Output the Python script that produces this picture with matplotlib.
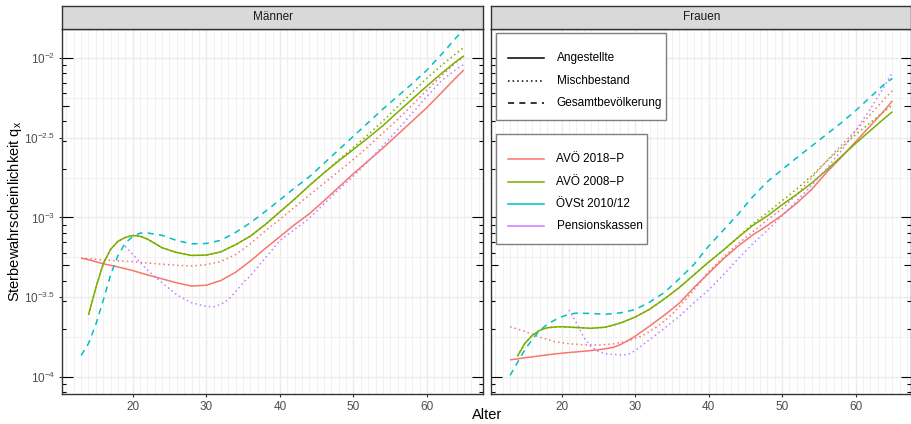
import numpy as np
import matplotlib
matplotlib.use("Agg")
import matplotlib.pyplot as plt
import matplotlib.ticker as mticker
from matplotlib.patches import Rectangle
from matplotlib.lines import Line2D
from matplotlib.collections import LineCollection

plt.rcParams["font.family"] = ["Liberation Sans", "DejaVu Sans"]
plt.rcParams["mathtext.fontset"] = "custom"
plt.rcParams["mathtext.rm"] = "Liberation Sans"
plt.rcParams["mathtext.it"] = "Liberation Sans:italic"
plt.rcParams["mathtext.bf"] = "Liberation Sans:bold"

# ---------------------------------------------------------------------------
# Sterbewahrscheinlichkeiten q_x, angegeben als log10(q_x)
# ---------------------------------------------------------------------------
# Männer
m_avoe2018_ang_age = [13, 14, 16, 18, 20, 22, 24, 26, 28, 30, 32, 34, 36, 38, 40, 42, 44, 46,
                      48, 50, 52, 54, 56, 58, 60, 62, 64, 65]
m_avoe2018_ang = [-3.255, -3.265, -3.29, -3.31, -3.333, -3.36, -3.385, -3.41, -3.43, -3.425,
                  -3.395, -3.343, -3.273, -3.195, -3.12, -3.045, -2.977, -2.895, -2.81, -2.725,
                  -2.645, -2.565, -2.48, -2.395, -2.31, -2.215, -2.12, -2.075]
m_avoe2018_misch_age = m_avoe2018_ang_age
m_avoe2018_misch = [-3.255, -3.258, -3.266, -3.272, -3.277, -3.285, -3.293, -3.30, -3.304, -3.296,
                    -3.275, -3.232, -3.165, -3.085, -3.012, -2.935, -2.86, -2.785, -2.71, -2.635,
                    -2.555, -2.47, -2.385, -2.295, -2.20, -2.11, -2.025, -1.995]
m_avoe2008_ang_age = [14, 15, 16, 17, 18, 19, 20, 21, 22, 24, 26, 28, 30, 32, 34, 36, 38, 40, 42,
                      44, 46, 48, 50, 52, 54, 56, 58, 60, 62, 64, 65]
m_avoe2008_ang = [-3.611, -3.44, -3.29, -3.20, -3.15, -3.125, -3.113, -3.118, -3.135, -3.19,
                  -3.22, -3.238, -3.236, -3.215, -3.17, -3.117, -3.045, -2.965, -2.885, -2.80,
                  -2.72, -2.645, -2.573, -2.50, -2.424, -2.34, -2.257, -2.175, -2.095, -2.02, -1.986]
m_avoe2008_misch_age = m_avoe2008_ang_age
m_avoe2008_misch = [-3.611, -3.44, -3.29, -3.20, -3.15, -3.125, -3.113, -3.118, -3.135, -3.19,
                    -3.22, -3.238, -3.236, -3.215, -3.17, -3.117, -3.045, -2.965, -2.885, -2.80,
                    -2.72, -2.638, -2.56, -2.48, -2.395, -2.305, -2.215, -2.125, -2.045, -1.97, -1.933]
m_oevst_age = [13, 14, 15, 16, 17, 18, 19, 20, 21, 22, 24, 26, 28, 30, 32, 34, 36, 38, 40, 42, 44,
               46, 48, 50, 52, 54, 56, 58, 60, 62, 64, 65]
m_oevst = [-3.865, -3.79, -3.67, -3.52, -3.36, -3.24, -3.16, -3.12, -3.098, -3.097, -3.112, -3.145,
           -3.165, -3.163, -3.143, -3.093, -3.033, -2.963, -2.89, -2.815, -2.745, -2.66, -2.575,
           -2.49, -2.405, -2.32, -2.24, -2.16, -2.075, -1.975, -1.87, -1.82]
m_pk_age = [19, 20, 21, 22, 23, 24, 26, 28, 30, 31, 32, 33, 34, 35, 36, 38, 40, 42, 44, 46, 48, 50,
            52, 54, 56, 58, 60, 62, 64, 65]
m_pk = [-3.18, -3.23, -3.28, -3.33, -3.37, -3.41, -3.485, -3.535, -3.557, -3.56, -3.545, -3.515,
        -3.465, -3.41, -3.365, -3.255, -3.145, -3.075, -3.005, -2.915, -2.825, -2.74, -2.648,
        -2.55, -2.45, -2.345, -2.24, -2.14, -2.07, -2.04]

# Frauen
f_avoe2018_ang_age = [13, 15, 17, 19, 21, 23, 25, 27, 28, 29, 30, 32, 34, 36, 38, 40, 42, 44, 46,
                      48, 50, 52, 54, 56, 58, 60, 62, 64, 65]
f_avoe2018_ang = [-3.893, -3.88, -3.868, -3.856, -3.847, -3.839, -3.83, -3.815, -3.797, -3.773,
                  -3.745, -3.68, -3.612, -3.538, -3.44, -3.35, -3.26, -3.18, -3.11, -3.05, -2.985,
                  -2.91, -2.825, -2.72, -2.625, -2.525, -2.425, -2.325, -2.268]
f_avoe2018_misch_age = [13, 15, 17, 19, 21, 23, 25, 27, 29, 31, 33, 35, 36, 38, 40, 42, 44, 46, 48,
                        50, 52, 54, 56, 58, 60, 62, 64, 65]
f_avoe2018_misch = [-3.685, -3.715, -3.75, -3.778, -3.792, -3.798, -3.8, -3.793, -3.775, -3.742,
                    -3.685, -3.61, -3.56, -3.455, -3.34, -3.25, -3.165, -3.09, -3.015, -2.945,
                    -2.855, -2.752, -2.648, -2.55, -2.455, -2.355, -2.252, -2.205]
f_avoe2008_ang_age = [14, 15, 16, 17, 18, 19, 20, 22, 24, 26, 28, 30, 32, 34, 36, 38, 40, 42, 44,
                      46, 48, 50, 52, 54, 56, 58, 60, 62, 64, 65]
f_avoe2008_ang = [-3.87, -3.79, -3.74, -3.708, -3.692, -3.687, -3.685, -3.69, -3.695, -3.688,
                  -3.662, -3.625, -3.575, -3.51, -3.44, -3.36, -3.28, -3.205, -3.125, -3.05, -2.99,
                  -2.92, -2.855, -2.785, -2.705, -2.62, -2.535, -2.455, -2.375, -2.337]
f_avoe2008_misch_age = f_avoe2008_ang_age
f_avoe2008_misch = [-3.87, -3.79, -3.74, -3.708, -3.692, -3.687, -3.685, -3.69, -3.695, -3.688,
                    -3.662, -3.625, -3.575, -3.51, -3.44, -3.36, -3.28, -3.205, -3.125, -3.04,
                    -2.97, -2.895, -2.82, -2.74, -2.65, -2.565, -2.48, -2.405, -2.33, -2.295]
f_oevst_age = [13, 14, 15, 16, 17, 18, 19, 20, 21, 22, 24, 26, 28, 30, 32, 34, 36, 38, 40, 42, 44,
               46, 48, 50, 52, 54, 56, 58, 60, 62, 64, 65]
f_oevst = [-3.99, -3.91, -3.83, -3.765, -3.71, -3.672, -3.645, -3.623, -3.607, -3.60, -3.602,
           -3.607, -3.598, -3.578, -3.53, -3.47, -3.385, -3.295, -3.18, -3.08, -2.98, -2.87,
           -2.775, -2.70, -2.625, -2.553, -2.48, -2.408, -2.33, -2.245, -2.16, -2.128]
f_pk_age = [21, 22, 23, 24, 25, 26, 28, 29, 30, 31, 32, 34, 36, 38, 40, 42, 44, 46, 48, 50, 52, 54,
            56, 58, 60, 62, 64, 65]
f_pk = [-3.58, -3.66, -3.75, -3.81, -3.84, -3.855, -3.862, -3.86, -3.835, -3.80, -3.765, -3.695,
        -3.62, -3.535, -3.455, -3.36, -3.26, -3.165, -3.08, -2.99, -2.895, -2.80, -2.695, -2.585,
        -2.455, -2.32, -2.17, -2.09]

panels = ["Männer", "Frauen"]
tafeln = ["AVÖ 2018\u2212P", "AVÖ 2008\u2212P", "ÖVSt 2010/12", "Pensionskassen"]
bestaende = ["Angestellte", "Mischbestand", "Gesamtbevölkerung"]

x_breaks = [20, 30, 40, 50, 60]
y_breaks_log = [-4, -3.5, -3, -2.5, -2]
y_labels = [r"$10^{-4}$", r"$10^{-3.5}$", r"$10^{-3}$", r"$10^{-2.5}$", r"$10^{-2}$"]
y_minor_log = [-3.75, -3.25, -2.75, -2.25]

# (Panel, Tafel, Bestand, Alter, Werte)
series = [
    ("Männer", 0, 0, m_avoe2018_ang_age, m_avoe2018_ang),
    ("Männer", 0, 1, m_avoe2018_misch_age, m_avoe2018_misch),
    ("Männer", 1, 0, m_avoe2008_ang_age, m_avoe2008_ang),
    ("Männer", 1, 1, m_avoe2008_misch_age, m_avoe2008_misch),
    ("Männer", 2, 2, m_oevst_age, m_oevst),
    ("Männer", 3, 1, m_pk_age, m_pk),
    ("Frauen", 0, 0, f_avoe2018_ang_age, f_avoe2018_ang),
    ("Frauen", 0, 1, f_avoe2018_misch_age, f_avoe2018_misch),
    ("Frauen", 1, 0, f_avoe2008_ang_age, f_avoe2008_ang),
    ("Frauen", 1, 1, f_avoe2008_misch_age, f_avoe2008_misch),
    ("Frauen", 2, 2, f_oevst_age, f_oevst),
    ("Frauen", 3, 1, f_pk_age, f_pk),
]

# ---------------------------------------------------------------------------
# Darstellung
# ---------------------------------------------------------------------------
colors = ["#F8766D", "#7CAE00", "#00BFC4", "#C77CFF"]
LW = 1.1
linestyles = ["-", (0, (1.0, 2.0)), (0, (4.0, 3.4))]

W, H = 912, 424
DPI = 100
fig = plt.figure(figsize=(W / DPI, H / DPI), dpi=DPI)


def fx(px):
    return px / W


def fy(py):
    return 1 - py / H


panel_x = [(62, 483), (491, 911.5)]
panel_top, panel_bot = 29, 394
strip_top = 6

xlim = (10.4, 67.6)
ylim = (10 ** -4.107, 10 ** -1.818)

border_col = "#333333"
grid_major = "#EBEBEB"
grid_minor = "#F1F1F1"
text_col = "#4D4D4D"

axes = []
for i, name in enumerate(panels):
    x0, x1 = panel_x[i]
    ax = fig.add_axes([fx(x0), fy(panel_bot), (x1 - x0) / W, (panel_bot - panel_top) / H])
    axes.append(ax)
    ax.set_yscale("log")
    ax.set_xlim(*xlim)
    ax.set_ylim(*ylim)

    ax.xaxis.set_major_locator(mticker.FixedLocator(x_breaks))
    ax.xaxis.set_minor_locator(mticker.FixedLocator(np.arange(11, 68, 1)))
    ax.yaxis.set_major_locator(mticker.FixedLocator([10 ** v for v in y_breaks_log]))
    ax.yaxis.set_minor_locator(mticker.FixedLocator([10 ** v for v in y_minor_log]))
    ax.yaxis.set_major_formatter(mticker.FixedFormatter(y_labels if i == 0 else [""] * 5))
    ax.yaxis.set_minor_formatter(mticker.NullFormatter())

    ax.grid(which="major", color=grid_major, linewidth=1.0)
    ax.grid(which="minor", color=grid_minor, linewidth=0.7)
    ax.set_axisbelow(True)

    ax.tick_params(which="major", direction="out", length=2.2, width=0.8, color=border_col,
                   labelsize=8.5, labelcolor=text_col, pad=2.5)
    ax.tick_params(which="minor", length=0)
    if i == 1:
        ax.tick_params(axis="y", which="major", length=0, labelleft=False)

    for s in ax.spines.values():
        s.set_color(border_col)
        s.set_linewidth(1.0)
        s.set_zorder(5)

    # Logarithmische Teilstriche am linken und rechten Rand
    width_px = x1 - x0
    segs = []
    for dec in range(-5, 0):
        for m in range(1, 10):
            y = m * 10.0 ** dec
            if not (ylim[0] <= y <= ylim[1]):
                continue
            L = 10.8 if m == 1 else (7.2 if m == 5 else 4.0)
            f = L / width_px
            segs.append([(0, y), (f, y)])
            segs.append([(1, y), (1 - f, y)])
    lc = LineCollection(segs, colors="black", linewidths=0.8,
                        transform=ax.get_yaxis_transform(), zorder=4)
    ax.add_collection(lc)

    # Panel-Titel (Streifen)
    sax = fig.add_axes([fx(x0), fy(panel_top), (x1 - x0) / W, (panel_top - strip_top) / H])
    sax.set_facecolor("#D9D9D9")
    sax.set_xticks([])
    sax.set_yticks([])
    for s in sax.spines.values():
        s.set_color(border_col)
        s.set_linewidth(1.0)
    sax.text(0.5, 0.5, name, ha="center", va="center", fontsize=8.5, color="#1A1A1A",
             transform=sax.transAxes)

for panel, t, b, ages, lq in series:
    ax = axes[panels.index(panel)]
    ax.plot(ages, 10 ** np.asarray(lq), color=colors[t], linestyle=linestyles[b],
            linewidth=LW, dash_capstyle="butt", solid_capstyle="butt", zorder=3)

# Achsentitel
fig.text(fx(15), fy((panel_top + panel_bot) / 2), r"Sterbewahrscheinlichkeit q$_\mathregular{x}$",
         rotation=90, ha="center", va="center", fontsize=10.5, color="black")
fig.text(fx(487), fy(422), "Alter", ha="center", va="bottom", fontsize=10.5, color="black")

# ---------------------------------------------------------------------------
# Legenden
# ---------------------------------------------------------------------------
def legend_box(x0, y0, x1, y1, rows, handles):
    fig.add_artist(Rectangle((fx(x0), fy(y1)), (x1 - x0) / W, (y1 - y0) / H,
                             transform=fig.transFigure, facecolor="white",
                             edgecolor="#7F7F7F", linewidth=1.0, zorder=10))
    for (label, y), (col, ls) in zip(rows, handles):
        fig.add_artist(Line2D([fx(508), fx(544)], [fy(y), fy(y)], transform=fig.transFigure,
                              color=col, linestyle=ls, linewidth=LW, dash_capstyle="butt",
                              zorder=11))
        fig.text(fx(556.5), fy(y), label, ha="left", va="center", fontsize=8.5,
                 color="black", zorder=11)


legend_box(496, 32.7, 665.7, 120,
           list(zip(bestaende, [58.3, 80.7, 102.7])),
           [("black", linestyles[0]), ("black", linestyles[1]), ("black", linestyles[2])])
legend_box(496, 134.3, 646.7, 244,
           list(zip(tafeln, [159.3, 182.0, 203.7, 225.7])),
           [(c, "-") for c in colors])

fig.savefig("out.png", dpi=DPI)
